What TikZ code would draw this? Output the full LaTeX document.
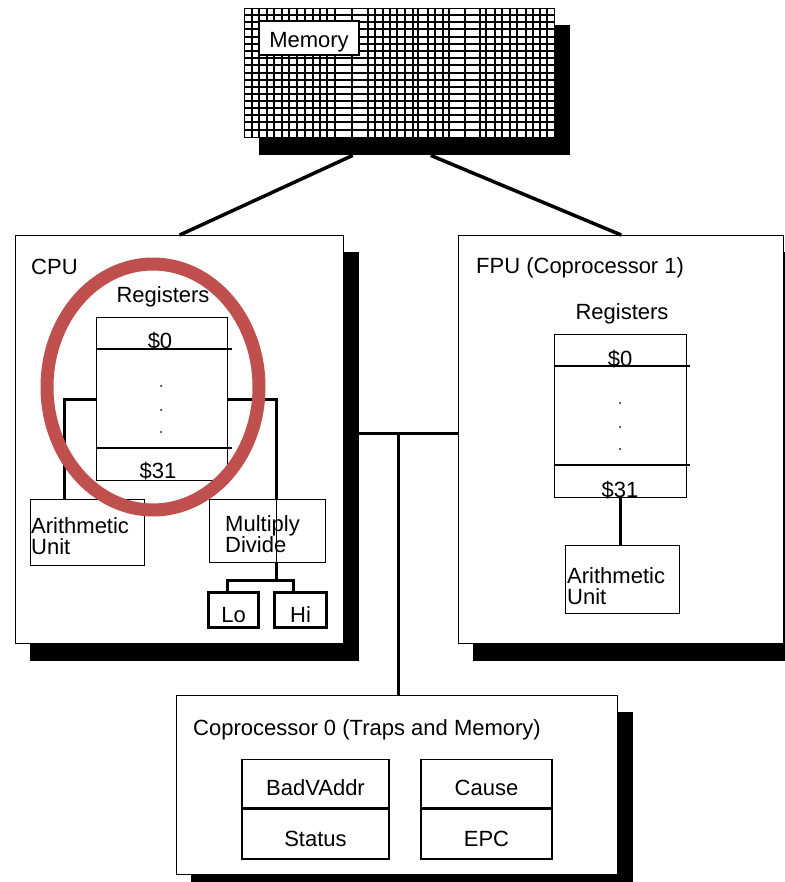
\documentclass[tikz,border=0pt]{standalone}
\usepackage{fontspec}
\setmainfont{Liberation Sans}
\usetikzlibrary{backgrounds}
\definecolor{ink}{HTML}{000000}
\definecolor{ringred}{HTML}{C0504D}

\begin{document}
\begin{tikzpicture}[
  x=1pt,y=-1pt,font=\fontsize{22}{26}\selectfont,
  unit/.style={draw=ink,line width=1.4pt,fill=white,inner sep=0pt,anchor=north west},
  part/.style={draw=ink,line width=1.3pt,inner sep=0pt,anchor=north west},
  half/.style={draw=ink,line width=3pt,inner sep=0pt,anchor=north west,
               text height=30pt,text depth=5pt},
  cell/.style={draw=ink,line width=1.3pt,inner sep=0pt,anchor=north,
               minimum width=147pt,text height=36pt,text depth=12pt},
  txt/.style={inner sep=0pt,anchor=base west},
  twolines/.style={inner sep=0pt,anchor=north west,align=left,
                   font=\fontsize{22}{21.5}\selectfont},
  wire/.style={draw=ink,line width=3pt},
  rule/.style={draw=ink,line width=1.3pt},
  gridline/.style={draw=ink,line width=1.6pt},
  castshadow/.style={fill=ink}
]
\useasboundingbox (0,0) rectangle (784,882);
\clip (0,0) rectangle (784,882);

% 1. Memory with its grid.
\node[unit,minimum width=310pt,minimum height=129pt] (memory) at (244,8) {};
\foreach \x in {252,259,267,274,282,289,297,305,313,320,327,335,352,368,375,383,
                390,397,405,413,418,428,435,443,449,465,480,486,495,502,510,517,
                526,533,540,547} {\draw[gridline] (\x,8)--(\x,137);}
\foreach \y in {15,22,29,37,44,51,58,65,73,80,87,94,101,108,115,122,130}
  {\draw[gridline] (244,\y)--(554,\y);}
\node[unit,line width=2pt,minimum width=100pt,text height=27pt,text depth=7pt]
  (memlabel) at (258,20) {Memory};

% 2. CPU.
\node[unit,minimum width=328pt,minimum height=408pt] (cpu) at (15,235) {};
\node[txt] (cputitle) at (31,274) {CPU};
\node[txt,anchor=base] (cpuregtitle) at (163,302) {Registers};
\node[part,minimum width=131pt,minimum height=163pt] (cpureg) at (96,317) {};
\draw[rule] (96,349)--(232,349);
\draw[rule] (96,448)--(232,448);
\node[txt,anchor=base] (cpufirst) at (160,348) {\$0};
\node[txt,anchor=base] (cpulast) at (158,478) {\$31};
\foreach \y in {386,410,432} {\fill[ink] (161,\y) circle (1pt);}
\node[part,minimum width=114pt,minimum height=66pt] (cpualu) at (30,499) {};
\node[twolines] (cpualutext) at (31,517) {Arithmetic\\Unit};
\node[part,minimum width=116pt,minimum height=63pt] (muldiv) at (209,499) {};
\node[twolines] (muldivtext) at (225,515) {Multiply\\Divide};
\node[half,minimum width=50pt] (lo) at (207,591) {Lo};
\node[half,minimum width=52pt] (hi) at (273,591) {Hi};

\draw[wire] (cpureg.west) -| ([xshift=-23pt]cpualu.north);
\draw[wire] (cpureg.east) -| ([xshift=9pt]muldiv.north);
\draw[rule] ([xshift=9pt]muldiv.north) -- ([xshift=9pt]muldiv.south);
\coordinate (mdsplit) at ([shift={(9,17)}]muldiv.south);
\draw[wire] ([xshift=9pt]muldiv.south) -- (mdsplit);
\draw[wire] ([xshift=-6pt]lo.north) |- (mdsplit) -| ([xshift=-7pt]hi.north);

% 3. FPU.
\node[unit,minimum width=325pt,minimum height=408pt] (fpu) at (458,235) {};
\node[txt] (fputitle) at (476,273) {FPU (Coprocessor 1)};
\node[txt,anchor=base] (fpuregtitle) at (622,319) {Registers};
\node[part,minimum width=132pt,minimum height=163pt] (fpureg) at (554,334) {};
\draw[rule] (554,366)--(690,366);
\draw[rule] (554,465)--(690,465);
\node[txt,anchor=base] (fpufirst) at (620,366) {\$0};
\node[txt,anchor=base] (fpulast) at (620,497) {\$31};
\foreach \y in {403,427,449} {\fill[ink] (620,\y) circle (1pt);}
\node[part,minimum width=114pt,minimum height=68pt] (fpualu) at (565,545) {};
\node[twolines] (fpualutext) at (567,567) {Arithmetic\\Unit};
\draw[wire] (fpureg.south) -- (fpureg.south |- fpualu.north);

% 4. Coprocessor 0.
\node[unit,minimum width=441pt,minimum height=179pt] (cpzero) at (176,695) {};
\node[txt] (cpzerotitle) at (193,735) {Coprocessor 0 (Traps and Memory)};
\node[cell] (badvaddr) at (315.5,759) {BadVAddr};
\node[cell,text height=38pt] (status) at (badvaddr.south) {Status};
\node[cell,minimum width=131pt] (cause) at (486.5,759) {Cause};
\node[cell,minimum width=131pt,text height=38pt] (epc) at (cause.south) {EPC};

% 5. Shadows, links and bus.
\begin{scope}[on background layer]
\foreach \n in {memory,cpu,fpu,cpzero}
  {\fill[castshadow] ([shift={(15,17)}]\n.north west) rectangle ([shift={(15,17)}]\n.south east);}
\end{scope}
\draw[wire,line width=3.5pt] ([shift={(-47,17)}]memory.south) -- (cpu.north);
\draw[wire,line width=3.5pt] ([shift={(31,17)}]memory.south) -- (fpu.north);
\coordinate (bus) at (398,433);
\coordinate (cpuback) at ([xshift=15pt]cpu.east);
\draw[wire] (cpuback |- bus) -- (fpu.west |- bus);
\draw[wire] (bus) -- (bus |- cpzero.north);

% 6. Highlight.
\draw[ringred,line width=13pt] (153,387) ellipse [x radius=106pt,y radius=123pt];

\end{tikzpicture}
\end{document}
